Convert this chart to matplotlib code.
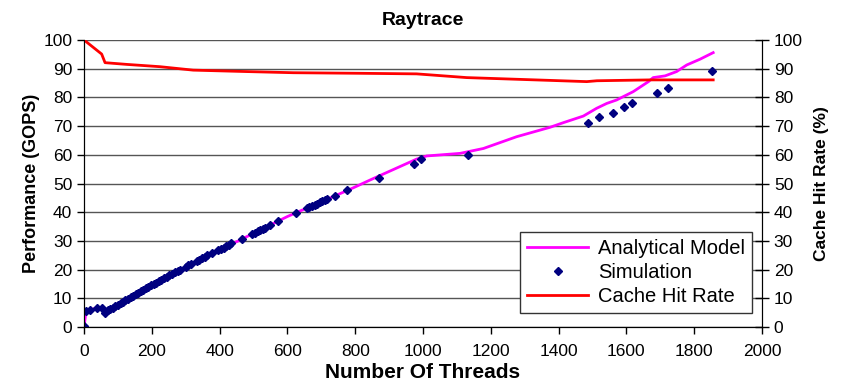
import matplotlib
matplotlib.use("Agg")
import matplotlib.pyplot as plt

plt.rcParams['font.family'] = ['Liberation Sans', 'DejaVu Sans']

# Modelo analitico (GOPS)
model_x = [0, 6, 18, 37, 52, 62, 70, 200, 400, 600, 785, 849, 981, 1011, 1109, 1178,
           1276, 1375, 1414, 1473, 1512, 1542, 1571, 1620, 1665, 1679, 1714, 1748,
           1778, 1817, 1856]
model_y = [0, 5.5, 5.9, 6.7, 6.5, 4.8, 5.6, 14.3, 26.8, 38.5, 48.0, 51.5, 58.5, 59.6,
           60.5, 62.2, 66.3, 69.6, 71.2, 73.5, 76.2, 77.9, 79.1, 82.0, 85.5, 86.9,
           87.5, 89.0, 91.3, 93.3, 95.6]

# Simulacion (GOPS)
sim_x = [0, 6, 18, 37, 52, 62, 70, 78, 85, 92, 100, 108, 115, 122, 130, 138, 145, 152,
         160, 168, 175, 182, 190, 198, 205, 212, 220, 228, 236, 244, 252, 260, 268,
         276, 283, 300, 308, 316, 332, 340, 348, 356, 364, 377, 396, 405, 412, 420,
         428, 435, 465, 495, 503, 512, 520, 527, 534, 549, 573, 625, 657, 665, 672,
         680, 688, 695, 702, 710, 716, 740, 775, 871, 973, 994, 1134, 1488, 1520,
         1561, 1593, 1616, 1690, 1724, 1853]
sim_y = [0.5, 5.5, 5.9, 6.7, 6.5, 4.8, 5.8, 6.3, 6.8, 7.3, 7.8, 8.3, 8.8, 9.3, 9.9,
         10.4, 10.9, 11.4, 12.0, 12.5, 13.0, 13.5, 14.0, 14.6, 15.0, 15.5, 16.0, 16.5,
         17.0, 17.5, 18.0, 18.5, 19.0, 19.5, 20.0, 21.0, 21.5, 22.0, 23.0, 23.5, 24.0,
         24.5, 25.0, 25.8, 26.8, 27.3, 27.7, 28.2, 28.7, 29.1, 30.7, 32.3, 32.8, 33.3,
         33.8, 34.2, 34.6, 35.4, 36.8, 39.6, 41.3, 41.7, 42.1, 42.5, 43.0, 43.4, 43.8,
         44.2, 44.6, 45.8, 47.6, 51.8, 56.7, 58.4, 59.9, 71.2, 73.1, 74.5, 76.8, 77.9,
         81.4, 83.2, 89.3]

# Tasa de aciertos de cache (%)
cache_x = [0, 52, 62, 126, 224, 322, 480, 617, 814, 981, 1129, 1483, 1513, 1670, 1856]
cache_y = [100, 95.1, 92.1, 91.5, 90.7, 89.5, 89.0, 88.6, 88.4, 88.2, 86.9, 85.5,
           85.8, 86.1, 86.1]

fig = plt.figure(figsize=(8.42, 3.85), dpi=100)
ax = fig.add_axes([0.0998, 0.1506, 0.8052, 0.7455])
ax2 = ax.twinx()

l1, = ax.plot(model_x, model_y, color='#FF00FF', lw=2, label='Analytical Model', zorder=3)
l2, = ax.plot(sim_x, sim_y, ls='none', marker='D', ms=4, color='#000080',
              label='Simulation', zorder=4)
l3, = ax2.plot(cache_x, cache_y, color='#FF0000', lw=2, label='Cache Hit Rate')

ax.set_xlim(0, 2000)
ax.set_ylim(0, 100)
ax2.set_ylim(0, 100)
ax.set_xticks(range(0, 2001, 200))
ax.set_yticks(range(0, 101, 10))
ax2.set_yticks(range(0, 101, 10))
ax.yaxis.grid(True, color='#555555', lw=1)
ax.set_axisbelow(True)

ax.tick_params(labelsize=12.5, direction='out', length=5, width=1)
ax.tick_params(axis='x', pad=7)
ax2.tick_params(labelsize=12.5, direction='inout', length=10, width=1)

for a in (ax, ax2):
    a.spines['top'].set_visible(False)

ax.set_title('Raytrace', fontsize=14, fontweight='bold', pad=11)
ax.set_xlabel('Number Of Threads', fontsize=15, fontweight='bold', labelpad=3)
ax.set_ylabel('Performance (GOPS)', fontsize=13, fontweight='bold', labelpad=2)
ax2.set_ylabel('Cache Hit Rate (%)', fontsize=12.5, fontweight='bold', labelpad=8)

leg = ax2.legend(handles=[l1, l2, l3], loc='lower right', bbox_to_anchor=(0.985, 0.05),
                 fontsize=14.5, frameon=True, fancybox=False, framealpha=1,
                 edgecolor='#333333', borderpad=0.35, labelspacing=0.25,
                 handlelength=3.0, handletextpad=0.5, borderaxespad=0)
leg.get_frame().set_linewidth(1)

fig.savefig('out.png', dpi=100)
